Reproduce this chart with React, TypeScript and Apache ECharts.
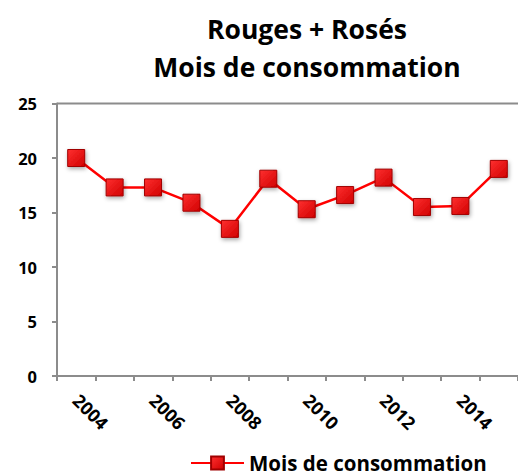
import React, { useEffect, useRef } from "react";
import * as echarts from "echarts";

const years = ["2004", "2005", "2006", "2007", "2008", "2009", "2010", "2011", "2012", "2013", "2014", "2015"];
const values = [20.0, 17.3, 17.3, 15.9, 13.5, 18.1, 15.3, 16.6, 18.2, 15.5, 15.6, 19.0];
const titleLines = ["Rouges + Rosés", "Mois de consommation"];
const seriesName = "Mois de consommation";

export default function App() {
  const ref = useRef<HTMLDivElement>(null);
  useEffect(() => {
    document.body.style.margin = "0";
    const chart = echarts.init(ref.current!, null, { renderer: "svg" });
    const font = "'Open Sans', 'Liberation Sans', sans-serif";
    chart.setOption({
      animation: false,
      textStyle: { fontFamily: font },
      graphic: [
        { type: "text", x: 307, y: 29, style: { text: titleLines[0], font: `bold 26.5px ${font}`, fill: "#000", textAlign: "center", textVerticalAlign: "middle" } },
        { type: "text", x: 307, y: 67, style: { text: titleLines[1], font: `bold 26.5px ${font}`, fill: "#000", textAlign: "center", textVerticalAlign: "middle" } },
        { type: "line", shape: { x1: 57, y1: 103.5, x2: 518, y2: 103.5 }, style: { stroke: "#8c8c8c", lineWidth: 2 }, z: -1 },
      ],
      legend: {
        data: [seriesName],
        left: 190,
        top: 452,
        padding: 0,
        itemWidth: 53,
        itemHeight: 16,
        textStyle: { fontSize: 20.5, lineHeight: 22, fontWeight: "bold", color: "#000", fontFamily: font },
      },
      grid: { left: 57, top: 103.5, width: 472, height: 272.5 },
      xAxis: {
        type: "category",
        data: years,
        boundaryGap: true,
        axisLine: { lineStyle: { color: "#8c8c8c", width: 2 } },
        axisTick: { show: true, length: 5, interval: 0, lineStyle: { color: "#8c8c8c", width: 2 } },
        axisLabel: { interval: 1, rotate: -45, margin: 21, fontSize: 18, fontWeight: "bold", color: "#000", fontFamily: font },
        splitLine: { show: false },
      },
      yAxis: {
        type: "value",
        min: 0,
        max: 25,
        interval: 5,
        axisLine: { show: true, lineStyle: { color: "#8c8c8c", width: 2 } },
        axisTick: { show: true, length: 5, lineStyle: { color: "#8c8c8c", width: 2 } },
        axisLabel: { margin: 20, fontSize: 16.5, fontWeight: "bold", color: "#000", fontFamily: font },
        splitLine: { show: false },
      },
      series: [
        {
          name: seriesName,
          type: "line",
          data: values,
          symbol: "rect",
          symbolSize: 17,
          clip: false,
          lineStyle: { color: "#ff0000", width: 2.5 },
          itemStyle: {
            color: new echarts.graphic.LinearGradient(0, 0, 1, 1, [
              { offset: 0, color: "#ff3030" },
              { offset: 1, color: "#d00000" },
            ]),
            borderColor: "#a00000",
            borderWidth: 1,
            shadowColor: "rgba(0,0,0,0.35)",
            shadowBlur: 4,
            shadowOffsetX: 1,
            shadowOffsetY: 2,
          },
        },
      ],
    });
    return () => chart.dispose();
  }, []);
  return <div ref={ref} style={{ width: 518, height: 476 }} />;
}
